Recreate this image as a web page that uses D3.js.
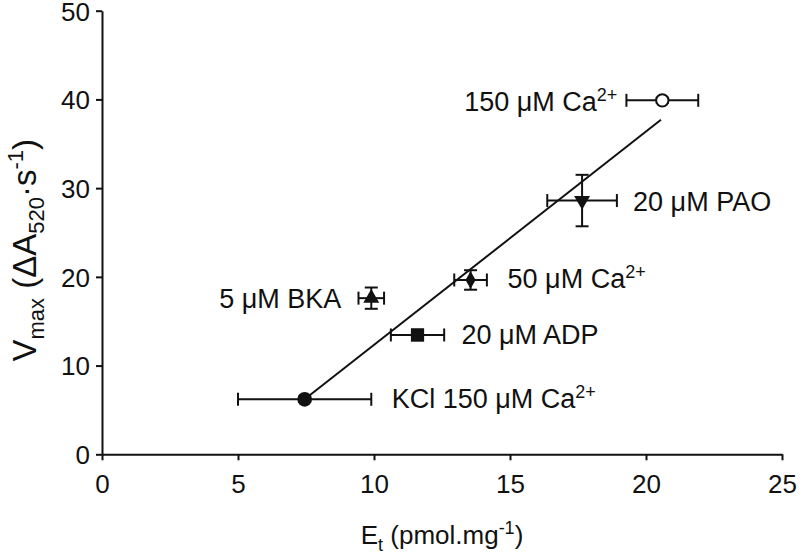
<!DOCTYPE html>
<html>
<head>
<meta charset="utf-8">
<script src="https://cdn.jsdelivr.net/npm/d3@7"></script>
<style>
  html, body { margin: 0; padding: 0; background: #fff; }
  svg { display: block; font-family: "Liberation Sans", Arial, Helvetica, sans-serif; }
</style>
</head>
<body>
<svg id="chart" width="800" height="556"></svg>
<script>
// ---- data ----
const pointLabels = ["KCl 150 μM Ca", "20 μM ADP", "5 μM BKA", "50 μM Ca", "20 μM PAO", "150 μM Ca"];
const labelSuperscripts = ["2+", "", "", "2+", "", "2+"];
const etValues = [7.45, 11.6, 9.9, 13.55, 17.65, 20.6];
const etErrors = [2.45, 0.98, 0.47, 0.6, 1.28, 1.32];
const vmaxValues = [6.2, 13.45, 17.6, 19.65, 28.6, 39.9];
const vmaxErrors = [0.3, 0.6, 1.2, 1.1, 2.9, 0.3];
const markerShapes = ["circle", "square", "triangle", "diamond", "triangleDown", "circleOpen"];
const fitX = [7.45, 20.55];
const fitY = [6.2, 37.7];
const xTicks = [0, 5, 10, 15, 20, 25];
const yTicks = [0, 10, 20, 30, 40, 50];

// ---- layout ----
const labelLayout = [
  { anchor: "start", dx: 87, dy: 9 },
  { anchor: "start", dx: 44, dy: 9 },
  { anchor: "end", dx: -30, dy: 10 },
  { anchor: "start", dx: 37, dy: 8 },
  { anchor: "start", dx: 51, dy: 10 },
  { anchor: "end", dx: -45, dy: 11 }
];

const svg = d3.select("#chart");
const x = d3.scaleLinear().domain([0, 25]).range([102, 782]);
const y = d3.scaleLinear().domain([0, 50]).range([454.3, 10.7]);
const ink = "#111";
const fontSize = 26;
const labelSize = 27;

// axes
const xAxis = svg.append("g").attr("transform", `translate(0,${y(0)})`)
  .call(d3.axisBottom(x).tickValues(xTicks).tickSize(6).tickSizeOuter(0).tickPadding(14).tickFormat(d3.format("d")));
const yAxis = svg.append("g").attr("transform", `translate(${x(0)},0)`)
  .call(d3.axisLeft(y).tickValues(yTicks).tickSize(6).tickSizeOuter(0).tickPadding(6).tickFormat(d3.format("d")));
[xAxis, yAxis].forEach(g => {
  g.select(".domain").attr("stroke", ink).attr("stroke-width", 2);
  g.selectAll(".tick line").attr("stroke", ink).attr("stroke-width", 2);
  g.selectAll(".tick text").attr("fill", ink).style("font-size", fontSize + "px")
    .style("font-family", "'Liberation Sans', Arial, sans-serif");
});
yAxis.selectAll(".tick text").attr("dy", "0.36em");

// axis titles
const xt = svg.append("text").attr("x", x(12.5)).attr("y", 544).attr("text-anchor", "middle")
  .attr("fill", ink).style("font-size", "26px");
xt.append("tspan").text("E");
xt.append("tspan").attr("dy", 7).style("font-size", "18px").text("t");
xt.append("tspan").attr("dy", -7).text(" (pmol.mg");
xt.append("tspan").attr("dy", -10).style("font-size", "18px").text("-1");
xt.append("tspan").attr("dy", 10).text(")");

const yt = svg.append("text").attr("transform", `translate(36,${y(23)}) rotate(-90)`)
  .attr("text-anchor", "middle").attr("fill", ink).style("font-size", "33px");
yt.append("tspan").text("V");
yt.append("tspan").attr("dy", 8).style("font-size", "22px").text("max");
yt.append("tspan").attr("dy", -8).text(" (ΔA");
yt.append("tspan").attr("dy", 8).style("font-size", "22px").text("520");
yt.append("tspan").attr("dy", -8).text("·s");
yt.append("tspan").attr("dy", -13).style("font-size", "22px").text("-1");
yt.append("tspan").attr("dy", 13).text(")");

// fit line
svg.append("line")
  .attr("x1", x(fitX[0])).attr("y1", y(fitY[0]))
  .attr("x2", x(fitX[1])).attr("y2", y(fitY[1]))
  .attr("stroke", ink).attr("stroke-width", 2);

// error bars
const cap = 6.5;
const data = etValues.map((v, i) => ({ et: v, ex: etErrors[i], vm: vmaxValues[i], ey: vmaxErrors[i], shape: markerShapes[i], label: pointLabels[i], sup: labelSuperscripts[i], lay: labelLayout[i] }));
const eb = svg.append("g").attr("stroke", ink).attr("stroke-width", 2).attr("fill", "none");
data.forEach(d => {
  const cx = x(d.et), cy = y(d.vm);
  const xl = x(d.et - d.ex), xr = x(d.et + d.ex);
  const yt2 = y(d.vm + d.ey), yb = y(d.vm - d.ey);
  eb.append("line").attr("x1", xl).attr("x2", xr).attr("y1", cy).attr("y2", cy);
  eb.append("line").attr("x1", xl).attr("x2", xl).attr("y1", cy - cap).attr("y2", cy + cap);
  eb.append("line").attr("x1", xr).attr("x2", xr).attr("y1", cy - cap).attr("y2", cy + cap);
  eb.append("line").attr("x1", cx).attr("x2", cx).attr("y1", yt2).attr("y2", yb);
  eb.append("line").attr("x1", cx - cap).attr("x2", cx + cap).attr("y1", yt2).attr("y2", yt2);
  eb.append("line").attr("x1", cx - cap).attr("x2", cx + cap).attr("y1", yb).attr("y2", yb);
});

// markers
const symbolFor = {
  circle: d3.symbol().type(d3.symbolCircle).size(170),
  circleOpen: d3.symbol().type(d3.symbolCircle).size(120),
  square: d3.symbol().type(d3.symbolSquare).size(175),
  triangle: d3.symbol().type(d3.symbolTriangle).size(110),
  triangleDown: d3.symbol().type(d3.symbolTriangle).size(110),
  diamond: d3.symbol().type(d3.symbolDiamond).size(90)
};
svg.append("g").selectAll("path").data(data).join("path")
  .attr("d", d => symbolFor[d.shape]())
  .attr("transform", d => `translate(${x(d.et)},${y(d.vm)})${d.shape === "triangleDown" ? " rotate(180)" : ""}`)
  .attr("fill", d => d.shape === "circleOpen" ? "#fff" : ink)
  .attr("stroke", ink).attr("stroke-width", d => d.shape === "circleOpen" ? 2 : 0);

// labels
data.forEach(d => {
  const t = svg.append("text")
    .attr("x", x(d.et) + d.lay.dx).attr("y", y(d.vm) + d.lay.dy)
    .attr("text-anchor", d.lay.anchor).attr("fill", ink).style("font-size", labelSize + "px");
  t.append("tspan").text(d.label);
  if (d.sup) t.append("tspan").attr("dy", -10).style("font-size", "18px").text(d.sup);
});
</script>
</body>
</html>
